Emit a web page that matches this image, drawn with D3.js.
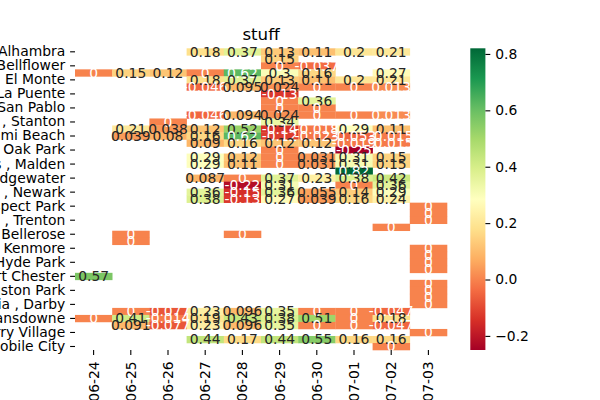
<!DOCTYPE html>
<html><head><meta charset="utf-8">
<script src="https://cdn.jsdelivr.net/npm/d3@7"></script>
<style>body{margin:0;background:#fff} svg{display:block} text{font-family:"DejaVu Sans",sans-serif}</style>
</head><body><svg id="c" width="600" height="400"></svg>
<script>
const dates = ["06-24","06-25","06-26","06-27","06-28","06-29","06-30","07-01","07-02","07-03"];
const cityTicks = ["Alhambra","Bellflower","El Monte","La Puente","San Pablo","Garden Grove , Stanton","Miami Beach","Oak Park","Saugus , Malden","Bridgewater","Harrison , Newark","Prospect Park","Ewing , Trenton","Bellerose","Kenmore","New Hyde Park","Port Chester","Kingston Park","Media , Darby","Lansdowne","Quarry Village","Mobile City"];
const N = null;
const values = [
 [N,N,N,0.18,0.37,0.13,0.11,0.2,0.21,N],
 [N,N,N,N,N,0.15,N,N,N,N],
 [N,N,N,N,N,0,-0.037,N,N,N],
 [0,0.15,0.12,0,0.62,0.3,0.16,N,0.27,N],
 [N,N,N,0.18,0.37,0.13,0.11,0.2,0.21,N],
 [N,N,N,-0.046,0.095,0.024,0,0,0.013,N],
 [N,N,N,N,N,-0.13,N,N,N,N],
 [N,N,N,N,N,0,0.36,N,N,N],
 [N,N,N,N,N,0,0,N,N,N],
 [N,N,N,-0.046,0.094,0.024,0,0,0.013,N],
 [N,N,0,N,N,0.34,N,N,N,N],
 [N,0.21,0.038,0.12,0.52,-0.14,-0.018,0.29,0.11,N],
 [N,0.039,0.08,0.16,0.62,-0.12,-0.023,-0.053,-0.015,N],
 [N,N,N,0.09,0.16,0.12,0.12,-0.019,-0.015,N],
 [N,N,N,N,N,0,N,-0.25,N,N],
 [N,N,N,0.29,0.12,0,0.031,0.31,0.15,N],
 [N,N,N,0.29,0.11,0,0.031,0.31,0.15,N],
 [N,N,N,N,N,N,N,0.82,N,N],
 [N,N,N,0.087,0,0.37,0.23,0.38,0.42,N],
 [N,N,N,N,-0.22,0.31,N,0,0.36,N],
 [N,N,N,0.36,-0.15,0.36,0.055,0.14,0.29,N],
 [N,N,N,0.38,-0.13,0.27,0.039,0.16,0.24,N],
 [N,N,N,N,N,N,N,N,N,0],
 [N,N,N,N,N,N,N,N,N,0],
 [N,N,N,N,N,N,N,N,N,0],
 [N,N,N,N,N,N,N,N,0,N],
 [N,0,N,N,0,N,N,N,N,N],
 [N,0,N,N,N,N,N,N,N,N],
 [N,N,N,N,N,N,N,N,N,0],
 [N,N,N,N,N,N,N,N,N,0],
 [N,N,N,N,N,N,N,N,N,0],
 [N,N,N,N,N,N,N,N,N,0],
 [0.57,N,N,N,N,N,N,N,N,N],
 [N,N,N,N,N,N,N,N,N,0],
 [N,N,N,N,N,N,N,N,N,0],
 [N,N,N,N,N,N,N,N,N,0],
 [N,N,N,N,N,N,N,N,N,0],
 [N,0,-0.077,0.23,0.096,0.35,0,0,-0.047,N],
 [0,0.41,-0.014,0.19,0.43,0.38,0.51,0,0.18,N],
 [N,0.091,-0.077,0.23,0.096,0.35,0,0,-0.047,N],
 [N,N,N,N,N,N,N,N,N,0],
 [N,N,N,0.44,0.17,0.44,0.55,0.16,0.16,N],
 [N,N,N,N,N,N,N,N,0,N]
];
const vmin = -0.25, vmax = 0.82;
const cbTicks = [-0.2, 0, 0.2, 0.4, 0.6, 0.8];
const scheme = ["#a50026","#d73027","#f46d43","#fdae61","#fee08b","#ffffbf","#d9ef8b","#a6d96a","#66bd63","#1a9850","#006837"];

const FS = 13.89;
const L = 75, R = 447, T = 48.3, B = 350;
const svg = d3.select("#c");
const rows = d3.range(values.length);
const x = d3.scaleBand().domain(dates).range([L, R]);
const y = d3.scaleBand().domain(rows).range([T, B]);
const color = d3.scaleLinear()
  .domain(d3.range(11).map(i => vmin + (vmax - vmin) * i / 10))
  .range(scheme).interpolate(d3.interpolateRgb).clamp(true);
const loc = d3.formatLocale({decimal:".", thousands:",", grouping:[3], currency:["",""], minus:"-"});
const fmt = loc.format(".2~g");

function lum(c) {
  const r = d3.rgb(c);
  const f = v => { v /= 255; return v <= 0.03928 ? v / 12.92 : Math.pow((v + 0.055) / 1.055, 2.4); };
  return 0.2126 * f(r.r) + 0.7152 * f(r.g) + 0.0722 * f(r.b);
}

const cells = [];
values.forEach((row, i) => row.forEach((v, j) => { if (v !== null) cells.push({i, j, v}); }));

svg.append("g").selectAll("rect").data(cells).join("rect")
  .attr("x", d => x(dates[d.j])).attr("y", d => y(d.i))
  .attr("width", x.bandwidth() + 0.3).attr("height", y.bandwidth() + 0.3)
  .attr("fill", d => color(d.v));

svg.append("g").selectAll("text").data(cells).join("text")
  .attr("x", d => x(dates[d.j]) + x.bandwidth() / 2)
  .attr("y", d => y(d.i) + y.bandwidth() / 2)
  .attr("text-anchor", "middle").attr("dominant-baseline", "central")
  .attr("font-size", FS)
  .attr("fill", d => lum(color(d.v)) > 0.408 ? "#262626" : "#ffffff")
  .text(d => fmt(d.v));

// y axis
const yAx = svg.append("g").attr("transform", `translate(${L},0)`)
  .call(d3.axisLeft(y).tickValues(rows.filter(i => i % 2 === 0)).tickFormat(i => cityTicks[i / 2]).tickSize(4.9).tickPadding(4.9));
yAx.select(".domain").remove();
yAx.selectAll("text").attr("font-size", FS).attr("fill", "#000").style("font-family", "DejaVu Sans");
yAx.selectAll("line").attr("stroke", "#000").attr("stroke-width", 1.1);

// x axis
const xAx = svg.append("g").attr("transform", `translate(0,${B})`)
  .call(d3.axisBottom(x).tickSize(4.9).tickPadding(4.9));
xAx.select(".domain").remove();
xAx.selectAll("line").attr("stroke", "#000").attr("stroke-width", 1.1);
xAx.selectAll("text").attr("font-size", FS).attr("fill", "#000").style("font-family", "DejaVu Sans")
  .attr("transform", null).attr("y", null).attr("dy", null)
  .attr("text-anchor", "end").attr("dominant-baseline", "central")
  .attr("transform", "translate(0,11.3) rotate(-90)");

// title
svg.append("text").attr("x", (L + R) / 2).attr("y", 40).attr("text-anchor", "middle")
  .attr("font-size", 16.67).attr("fill", "#000").text("stuff");

// colorbar
const cbX = 470.3, cbW = 15.1;
const cb = d3.scaleLinear().domain([vmin, vmax]).range([B, T]);
const defs = svg.append("defs");
const grad = defs.append("linearGradient").attr("id", "g").attr("x1", 0).attr("y1", 1).attr("x2", 0).attr("y2", 0);
d3.range(0, 1.0001, 0.02).forEach(t => grad.append("stop").attr("offset", t).attr("stop-color", color(vmin + (vmax - vmin) * t)));
svg.append("rect").attr("x", cbX).attr("y", T).attr("width", cbW).attr("height", B - T).attr("fill", "url(#g)");
const cAx = svg.append("g").attr("transform", `translate(${cbX + cbW},0)`)
  .call(d3.axisRight(cb).tickValues(cbTicks).tickFormat(d3.format(".1f")).tickSize(4.9).tickPadding(4.9));
cAx.select(".domain").remove();
cAx.selectAll("line").attr("stroke", "#000").attr("stroke-width", 1.1);
cAx.selectAll("text").attr("font-size", FS).attr("fill", "#000").style("font-family", "DejaVu Sans");
</script></body></html>
